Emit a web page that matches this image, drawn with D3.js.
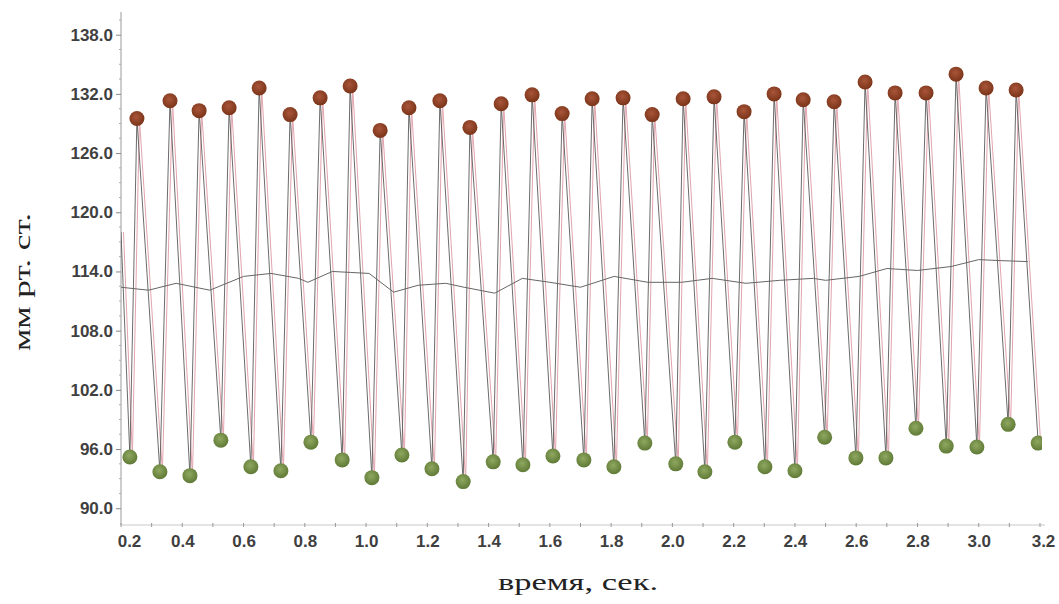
<!DOCTYPE html>
<html>
<head>
<meta charset="utf-8">
<script src="https://cdn.jsdelivr.net/npm/d3@7"></script>
<style>
  html, body { margin: 0; padding: 0; background: #fff; }
  svg { display: block; }
</style>
</head>
<body>
<svg id="chart" width="1059" height="604"></svg>
<script>
// ---- data ----
const xTickValues = [0.2, 0.4, 0.6, 0.8, 1.0, 1.2, 1.4, 1.6, 1.8, 2.0, 2.2, 2.4, 2.6, 2.8, 3.0, 3.2];
const xTickLabels = ["0.2","0.4","0.6","0.8","1.0","1.2","1.4","1.6","1.8","2.0","2.2","2.4","2.6","2.8","3.0","3.2"];
const yTickValues = [90, 96, 102, 108, 114, 120, 126, 132, 138];
const yTickLabels = ["90.0","96.0","102.0","108.0","114.0","120.0","126.0","132.0","138.0"];

// systolic peaks (brown dots)
const peakTimes  = [0.252,0.360,0.455,0.553,0.651,0.752,0.850,0.948,1.046,1.140,1.241,1.339,1.441,1.542,1.640,1.738,1.839,1.934,2.035,2.136,2.234,2.332,2.427,2.528,2.629,2.727,2.828,2.926,3.024,3.122];
const peakValues = [129.5,131.3,130.3,130.6,132.6,129.9,131.6,132.8,128.3,130.6,131.3,128.6,131.0,131.9,130.0,131.5,131.6,129.9,131.5,131.7,130.2,132.0,131.4,131.2,133.2,132.1,132.1,134.0,132.6,132.4];

// diastolic minima (green dots)
const troughTimes  = [0.229,0.327,0.425,0.526,0.624,0.722,0.820,0.922,1.019,1.117,1.215,1.317,1.415,1.512,1.610,1.711,1.809,1.910,2.011,2.106,2.204,2.302,2.400,2.497,2.599,2.697,2.795,2.894,2.994,3.096,3.194];
const troughValues = [95.2,93.7,93.3,96.9,94.2,93.8,96.7,94.9,93.1,95.4,94.0,92.7,94.7,94.4,95.3,94.9,94.2,96.6,94.5,93.7,96.7,94.2,93.8,97.2,95.1,95.1,98.1,96.3,96.2,98.5,96.6];

// start of the trace at the left edge (falling edge of an earlier beat)
const traceStartTime = 0.2;
const traceStartValue = 118.0;

// mean pressure curve
const meanTimes  = [0.20,0.29,0.38,0.49,0.60,0.69,0.78,0.81,0.89,0.95,1.01,1.09,1.17,1.26,1.32,1.42,1.51,1.60,1.70,1.81,1.92,2.03,2.13,2.24,2.35,2.46,2.50,2.61,2.70,2.80,2.91,3.00,3.07,3.16];
const meanValues = [112.4,112.1,112.8,112.1,113.5,113.8,113.3,112.9,114.0,113.9,113.8,111.9,112.6,112.8,112.4,111.8,113.3,112.9,112.4,113.5,112.9,112.9,113.3,112.8,113.1,113.3,113.1,113.5,114.3,114.1,114.5,115.2,115.1,115.0];

const yMinorStep = 1.5;
const xMinorStep = 0.1;

// ---- layout ----
const svg = d3.select("#chart");
const x = d3.scaleLinear().domain([0.2, 3.2]).range([121, 1040]);
const y = d3.scaleLinear().domain([88.3, 140.3]).range([525, 12]);

// build trace
const trace = [[traceStartTime, traceStartValue]];
troughTimes.forEach((t, i) => {
  trace.push([t, troughValues[i]]);
  if (i < peakTimes.length) trace.push([peakTimes[i], peakValues[i]]);
});
const meanData = meanTimes.map((t, i) => [t, meanValues[i]]);

// clip
const defs = svg.append("defs");
defs.append("clipPath").attr("id", "plotclip")
  .append("rect").attr("x", 121).attr("y", 0).attr("width", 1042 - 121).attr("height", 545);

const gradB = defs.append("radialGradient").attr("id", "gb").attr("cx", "45%").attr("cy", "40%").attr("r", "60%");
gradB.append("stop").attr("offset", "0%").attr("stop-color", "#a9553a");
gradB.append("stop").attr("offset", "100%").attr("stop-color", "#7a3418");
const gradG = defs.append("radialGradient").attr("id", "gg").attr("cx", "45%").attr("cy", "40%").attr("r", "60%");
gradG.append("stop").attr("offset", "0%").attr("stop-color", "#8fa860");
gradG.append("stop").attr("offset", "100%").attr("stop-color", "#5f7a36");

// ---- axes ----
const labelFont = "'Liberation Sans', Arial, sans-serif";

// y axis
const yAxis = d3.axisLeft(y).tickValues(yTickValues).tickFormat((d, i) => yTickLabels[i]).tickSize(5).tickPadding(3);
const gy = svg.append("g").attr("transform", "translate(121,0)").call(yAxis);
gy.select(".domain").attr("stroke", "#9a9a9a").attr("d", `M0,${12}V525`);
gy.selectAll(".tick line").attr("stroke", "#888");
gy.selectAll(".tick text").attr("fill", "#3f3f3f").style("font-family", labelFont)
  .style("font-weight", "bold").style("font-size", "17px");
const yMinor = d3.range(90, 140, yMinorStep).filter(v => !yTickValues.includes(v));
svg.append("g").selectAll("line").data(yMinor).join("line")
  .attr("x1", 119).attr("x2", 121).attr("y1", d => y(d)).attr("y2", d => y(d))
  .attr("stroke", "#aaa");

// x axis
const xAxis = d3.axisBottom(x).tickValues(xTickValues).tickFormat((d, i) => xTickLabels[i]).tickSize(0).tickPadding(10);
const gx = svg.append("g").attr("transform", "translate(0,525)").call(xAxis);
gx.select(".domain").attr("stroke", "#c8c8c8").attr("d", "M121,0H1045");
gx.selectAll(".tick text").attr("fill", "#3f3f3f").style("font-family", labelFont)
  .style("font-weight", "bold").style("font-size", "17px")
  .attr("dx", (d, i) => i === 0 ? 8 : (i === xTickValues.length - 1 ? 3 : 0));
const xMinor = d3.range(0.2, 3.21, xMinorStep);
svg.append("g").selectAll("line").data(xMinor).join("line")
  .attr("x1", d => x(d)).attr("x2", d => x(d)).attr("y1", 523).attr("y2", 527)
  .attr("stroke", "#999");

// titles
svg.append("text").attr("x", 578).attr("y", 590).attr("text-anchor", "middle")
  .style("font-family", "'Liberation Serif', 'Times New Roman', serif").style("font-size", "24px")
  .attr("textLength", 160).attr("lengthAdjust", "spacingAndGlyphs")
  .attr("fill", "#222").text("время, сек.");
svg.append("text").attr("transform", "translate(30,282) rotate(-90)").attr("text-anchor", "middle")
  .style("font-family", "'Liberation Serif', 'Times New Roman', serif").style("font-size", "24px")
  .attr("textLength", 138).attr("lengthAdjust", "spacingAndGlyphs")
  .attr("fill", "#222").text("мм рт. ст.");

// ---- plot ----
const plot = svg.append("g").attr("clip-path", "url(#plotclip)");
const line = d3.line().x(d => x(d[0])).y(d => y(d[1]));

plot.append("path").datum(trace).attr("d", line).attr("fill", "none")
  .attr("stroke", "#e2a4ae").attr("stroke-width", 1).attr("transform", "translate(2.5,0)");
plot.append("path").datum(trace).attr("d", line).attr("fill", "none")
  .attr("stroke", "#5a5a5a").attr("stroke-width", 0.9);
plot.append("path").datum(meanData).attr("d", line).attr("fill", "none")
  .attr("stroke", "#666").attr("stroke-width", 1);

plot.append("g").selectAll("circle").data(peakTimes).join("circle")
  .attr("cx", d => x(d)).attr("cy", (d, i) => y(peakValues[i])).attr("r", 7.5)
  .attr("fill", "url(#gb)");
plot.append("g").selectAll("circle").data(troughTimes).join("circle")
  .attr("cx", d => x(d)).attr("cy", (d, i) => y(troughValues[i])).attr("r", 7.5)
  .attr("fill", "url(#gg)");
</script>
</body>
</html>
